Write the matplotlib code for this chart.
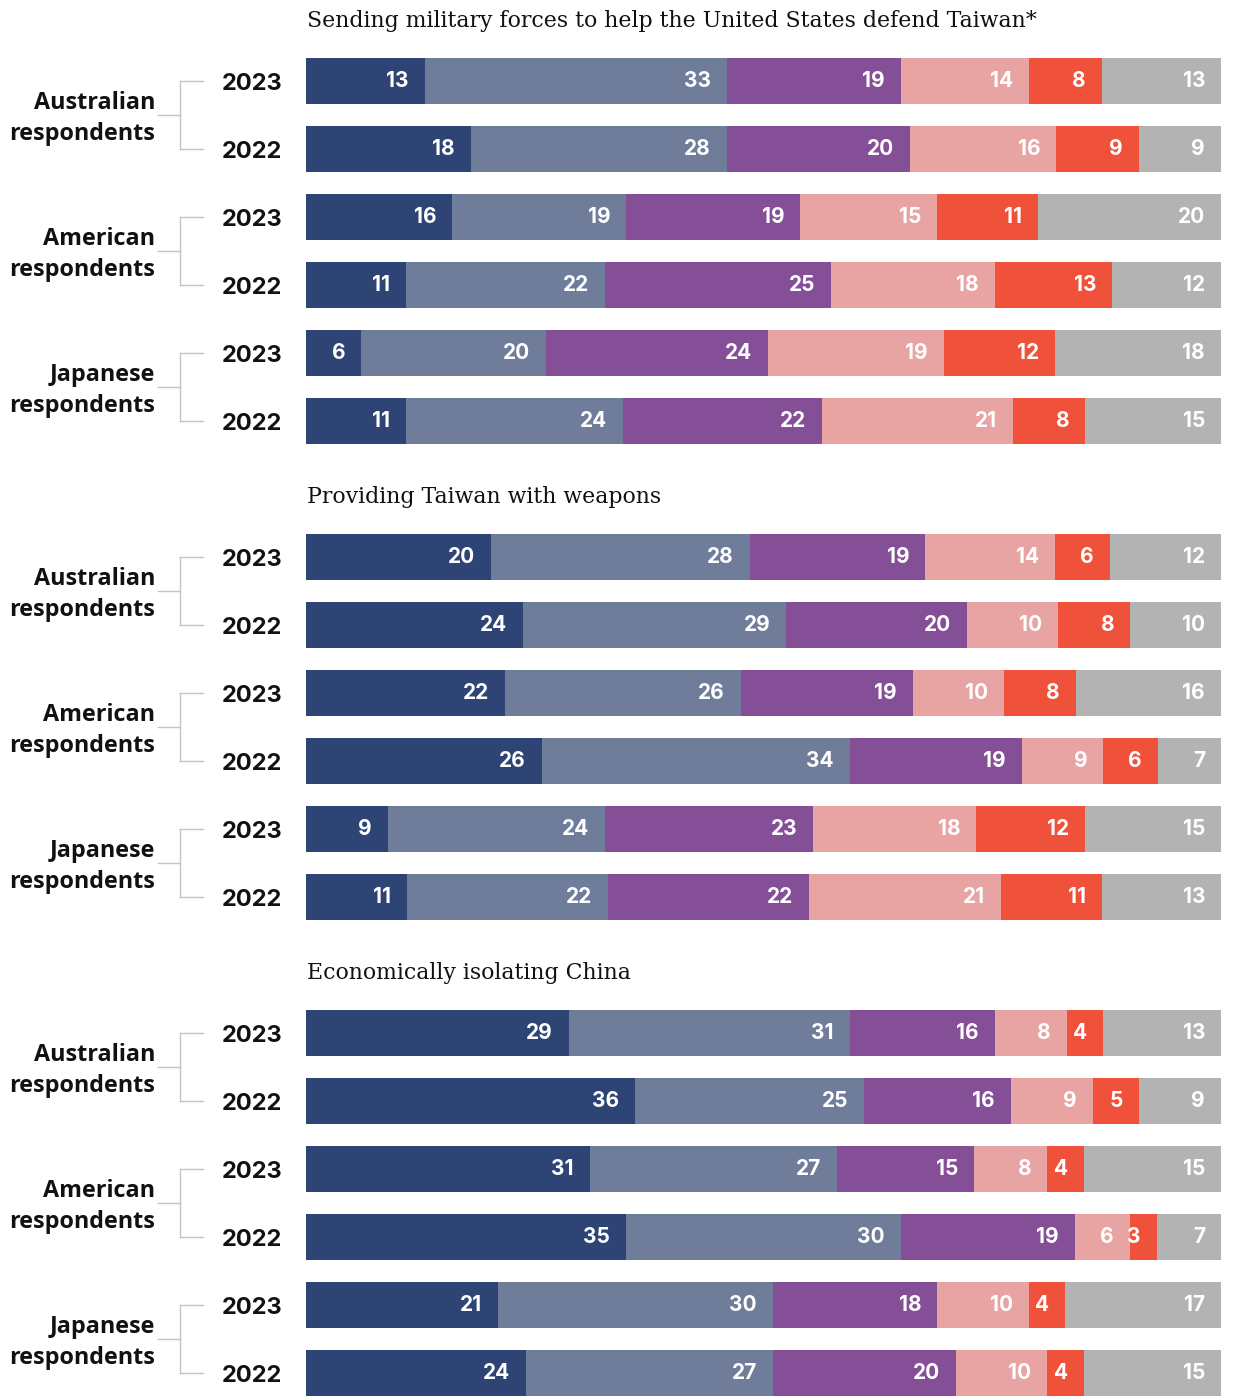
import matplotlib.pyplot as plt
from matplotlib.transforms import blended_transform_factory

titles = [
    "Sending military forces to help the United States defend Taiwan*",
    "Providing Taiwan with weapons",
    "Economically isolating China",
]
groups = ["Australian\nrespondents", "American\nrespondents", "Japanese\nrespondents"]
years = ["2023", "2022"]

# six answer categories per bar, left to right
colors = ["#2e4474", "#6f7d9b", "#854f97", "#e8a3a3", "#f0513b", "#b3b3b3"]

military = [
    [13, 33, 19, 14, 8, 13],
    [18, 28, 20, 16, 9, 9],
    [16, 19, 19, 15, 11, 20],
    [11, 22, 25, 18, 13, 12],
    [6, 20, 24, 19, 12, 18],
    [11, 24, 22, 21, 8, 15],
]
weapons = [
    [20, 28, 19, 14, 6, 12],
    [24, 29, 20, 10, 8, 10],
    [22, 26, 19, 10, 8, 16],
    [26, 34, 19, 9, 6, 7],
    [9, 24, 23, 18, 12, 15],
    [11, 22, 22, 21, 11, 13],
]
isolating = [
    [29, 31, 16, 8, 4, 13],
    [36, 25, 16, 9, 5, 9],
    [31, 27, 15, 8, 4, 15],
    [35, 30, 19, 6, 3, 7],
    [21, 30, 18, 10, 4, 17],
    [24, 27, 20, 10, 4, 15],
]
panels = [military, weapons, isolating]

W, H = 1234, 1396
fig = plt.figure(figsize=(W / 100, H / 100), dpi=100)
row_px = 68
top_row = 81
ax = fig.add_axes([306 / W, 0, 915 / W, 1])
ax.set_xlim(0, 100)
ax.set_ylim((H - top_row) / row_px, -top_row / row_px)
ax.axis("off")

sans = ["Inter", "DejaVu Sans"]
wide = ["Open Sans", "DejaVu Sans"]
serif = ["DejaVu Serif"]
tr = blended_transform_factory(ax.transAxes, ax.transData)
bracket_col = "#c4c4c4"

for p, rows in enumerate(panels):
    base = p * 7
    ax.text(0.001, base - 0.88, titles[p], transform=tr, ha="left", va="center",
            fontsize=15.8, family=serif, color="#111111")
    for r, vals in enumerate(rows):
        y = base + r
        total = sum(vals)
        left = 0
        for v, c in zip(vals, colors):
            w = v / total * 100
            ax.barh(y, w, left=left, height=0.68, color=c, linewidth=0)
            ax.annotate(str(v), (left + w, y), xytext=(-11.5, 0), textcoords="offset points",
                        ha="right", va="center", color="white", fontsize=15,
                        fontweight="bold", family=sans)
            left += w
        ax.text(-0.026, y + 0.05, years[r % 2], transform=tr, ha="right", va="center",
                fontsize=17, fontweight="bold", family=sans, color="#111111")
    for g in range(3):
        y0 = base + 2 * g
        y1 = y0 + 1
        mid = (y0 + y1) / 2
        ax.text(-0.165, mid + 0.05, groups[g], transform=tr, ha="right", va="center",
                fontsize=16.8, fontweight="bold", family=wide, color="#111111",
                linespacing=1.42)
        ax.plot([-0.1617, -0.1377], [mid, mid], transform=tr, color=bracket_col,
                lw=1, clip_on=False)
        ax.plot([-0.1377, -0.1377], [y0, y1], transform=tr, color=bracket_col,
                lw=1, clip_on=False)
        ax.plot([-0.1377, -0.1126], [y0, y0], transform=tr, color=bracket_col,
                lw=1, clip_on=False)
        ax.plot([-0.1377, -0.1126], [y1, y1], transform=tr, color=bracket_col,
                lw=1, clip_on=False)

fig.savefig("out.png", dpi=100, facecolor="white")
